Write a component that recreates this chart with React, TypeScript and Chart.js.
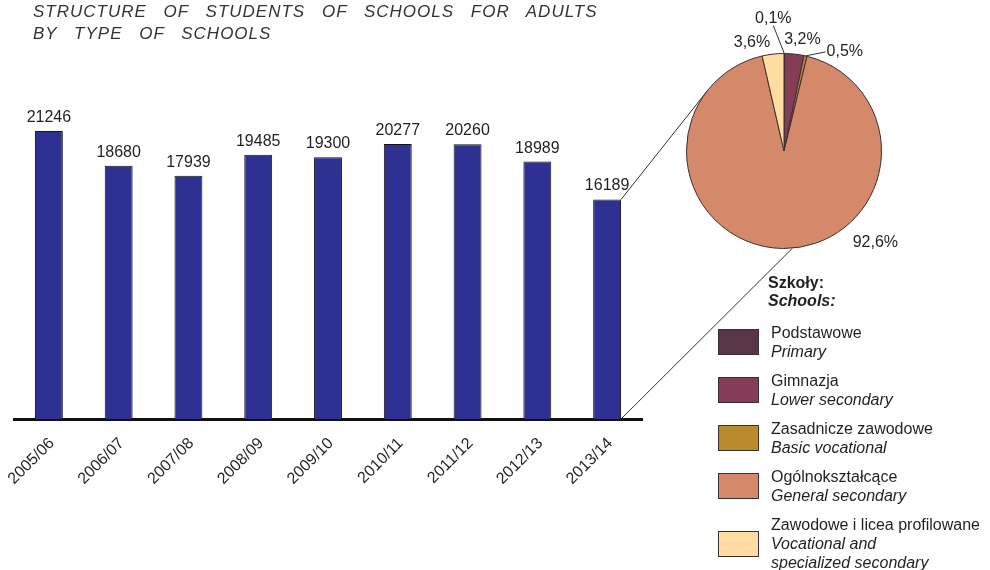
import React, { useEffect, useRef } from "react";
import { Chart, registerables } from "chart.js";

Chart.register(...registerables);

// ---- data ----
const years = ["2005/06", "2006/07", "2007/08", "2008/09", "2009/10", "2010/11", "2011/12", "2012/13", "2013/14"];
const students = [21246, 18680, 17939, 19485, 19300, 20277, 20260, 18989, 16189];
const yAxisMax = 25000;
const schoolTypesPl = ["Podstawowe", "Gimnazja", "Zasadnicze zawodowe", "Ogólnokształcące", "Zawodowe i licea profilowane"];
const schoolTypesEn = ["Primary", "Lower secondary", "Basic vocational", "General secondary", "Vocational and\nspecialized secondary"];
const sharePct = [0.1, 3.2, 0.5, 92.6, 3.6];
const titleLines = ["STRUCTURE OF STUDENTS OF SCHOOLS FOR ADULTS", "BY TYPE OF SCHOOLS"];
const legendHeader = ["Szkoły:", "Schools:"];

// ---- styles ----
const FONT = '"Liberation Sans", Arial, Helvetica, sans-serif';
const TEXT = "#231f20";
const BAR_COLOR = "#2e3192";
const SLICE_COLORS = ["#5a3548", "#843c57", "#b98a2e", "#d5896b", "#ffdda2"];
const OUTLINE = "#3a3030";
const PIE_BOX = { left: 680, top: 0, width: 310, height: 270 };
// label placement relative to each slice's outer mid point
const PIE_LABEL_NUDGE: { dx: number; dy: number; align: CanvasTextAlign; leader?: "up" | "side" }[] = [
  { dx: -11, dy: -31, align: "center", leader: "up" },
  { dx: 8, dy: -10, align: "center" },
  { dx: 21, dy: 0, align: "left", leader: "side" },
  { dx: 92, dy: -1, align: "center" },
  { dx: -21, dy: -7, align: "center" },
];
const LOWER_CONNECTOR_ANGLE = (85 * Math.PI) / 180;

const fmtPct = (v: number) => v.toFixed(1).replace(".", ",") + "%";

export default function App() {
  const barRef = useRef<HTMLCanvasElement | null>(null);
  const pieRef = useRef<HTMLCanvasElement | null>(null);

  useEffect(() => {
    if (!barRef.current || !pieRef.current) return;

    const pieLabelPlugin = {
      id: "pieLabels",
      afterDatasetsDraw(chart: any) {
        const ctx = chart.ctx;
        const meta = chart.getDatasetMeta(0);
        ctx.save();
        ctx.font = `16px ${FONT}`;
        ctx.fillStyle = TEXT;
        ctx.strokeStyle = "#333";
        ctx.lineWidth = 1;
        ctx.textBaseline = "alphabetic";
        meta.data.forEach((arc: any, i: number) => {
          const p = arc.getProps(["x", "y", "startAngle", "endAngle", "outerRadius"], true);
          const mid = (p.startAngle + p.endAngle) / 2;
          const ex = p.x + Math.cos(mid) * p.outerRadius;
          const ey = p.y + Math.sin(mid) * p.outerRadius;
          const n = PIE_LABEL_NUDGE[i];
          const lx = ex + n.dx;
          const ly = ey + n.dy;
          ctx.textAlign = n.align;
          ctx.fillText(fmtPct(sharePct[i]), lx, ly);
          if (n.leader === "up") {
            ctx.beginPath();
            ctx.moveTo(lx, ly + 3);
            ctx.lineTo(ex, ey);
            ctx.stroke();
          } else if (n.leader === "side") {
            ctx.beginPath();
            ctx.moveTo(ex, ey);
            ctx.lineTo(lx - 1, ly - 4);
            ctx.stroke();
          }
        });
        ctx.restore();
      },
    };

    const pieChart = new Chart(pieRef.current, {
      type: "pie",
      data: {
        labels: schoolTypesPl,
        datasets: [
          {
            data: sharePct,
            backgroundColor: SLICE_COLORS,
            borderColor: OUTLINE,
            borderWidth: 1,
          },
        ],
      },
      options: {
        animation: false,
        responsive: false,
        maintainAspectRatio: false,
        layout: { padding: { left: 6, right: 108, top: 53, bottom: 21 } },
        plugins: { legend: { display: false }, tooltip: { enabled: false }, title: { display: false } },
      },
      plugins: [pieLabelPlugin],
    } as any);

    const valueLabelPlugin = {
      id: "valueLabels",
      afterDatasetsDraw(chart: any) {
        const ctx = chart.ctx;
        const meta = chart.getDatasetMeta(0);
        ctx.save();
        ctx.font = `16px ${FONT}`;
        ctx.fillStyle = TEXT;
        ctx.textAlign = "center";
        ctx.textBaseline = "alphabetic";
        meta.data.forEach((bar: any, i: number) => {
          ctx.fillText(String(students[i]), bar.x, bar.y - 9);
        });
        ctx.restore();
      },
    };

    const connectorPlugin = {
      id: "connector",
      afterDraw(chart: any) {
        const arc: any = pieChart.getDatasetMeta(0).data[0];
        if (!arc) return;
        const cx = arc.x + PIE_BOX.left;
        const cy = arc.y + PIE_BOX.top;
        const r = arc.outerRadius;
        const meta = chart.getDatasetMeta(0);
        const bar: any = meta.data[meta.data.length - 1];
        const b = bar.getProps(["x", "y", "width", "base"], true);
        const px = b.x + b.width / 2;
        const ctx = chart.ctx;
        // upper tangent from bar's top-right corner
        const dx = cx - px;
        const dy = cy - b.y;
        const d = Math.hypot(dx, dy);
        const a = Math.atan2(dy, dx);
        const beta = Math.asin(Math.min(1, r / d));
        const L = Math.sqrt(Math.max(0, d * d - r * r));
        const t = a - beta;
        const tx = px + L * Math.cos(t);
        const ty = b.y + L * Math.sin(t);
        const bx = cx + r * Math.cos(LOWER_CONNECTOR_ANGLE);
        const by = cy + r * Math.sin(LOWER_CONNECTOR_ANGLE);
        ctx.save();
        ctx.strokeStyle = "#333";
        ctx.lineWidth = 1;
        ctx.beginPath();
        ctx.moveTo(px, b.y);
        ctx.lineTo(tx, ty);
        ctx.moveTo(px, b.base);
        ctx.lineTo(bx, by);
        ctx.stroke();
        ctx.restore();
      },
    };

    const barChart = new Chart(barRef.current, {
      type: "bar",
      data: {
        labels: years,
        datasets: [
          {
            data: students,
            backgroundColor: BAR_COLOR,
            borderColor: "#151515",
            borderWidth: 1,
            barPercentage: 0.4,
            categoryPercentage: 1,
          },
        ],
      },
      options: {
        animation: false,
        responsive: false,
        maintainAspectRatio: false,
        layout: { padding: { left: 14, right: 348, top: 80, bottom: 0 } },
        plugins: { legend: { display: false }, tooltip: { enabled: false }, title: { display: false } },
        scales: {
          x: {
            grid: { display: false, drawTicks: false },
            border: { display: true, color: "#111", width: 3 },
            ticks: {
              color: TEXT,
              font: { family: FONT, size: 16 },
              minRotation: 45,
              maxRotation: 45,
              autoSkip: false,
              padding: 15,
              labelOffset: 3,
            },
            afterFit: (s: any) => {
              s.height = 151;
              s.paddingLeft = 0;
              s.paddingRight = 0;
            },
          },
          y: { display: false, min: 0, max: yAxisMax },
        },
      },
      plugins: [valueLabelPlugin, connectorPlugin],
    } as any);

    return () => {
      barChart.destroy();
      pieChart.destroy();
    };
  }, []);

  return (
    <div
      style={{
        position: "absolute",
        left: 0,
        top: 0,
        width: 990,
        height: 570,
        background: "#fff",
        fontFamily: FONT,
        color: TEXT,
        overflow: "hidden",
      }}
    >
      <canvas
        ref={barRef}
        width={990}
        height={570}
        style={{ position: "absolute", left: 0, top: 0, width: 990, height: 570 }}
      />
      <canvas
        ref={pieRef}
        width={PIE_BOX.width}
        height={PIE_BOX.height}
        style={{
          position: "absolute",
          left: PIE_BOX.left,
          top: PIE_BOX.top,
          width: PIE_BOX.width,
          height: PIE_BOX.height,
        }}
      />
      <div
        style={{
          position: "absolute",
          left: 33,
          top: 1,
          fontSize: 17,
          fontStyle: "italic",
          lineHeight: "22px",
          letterSpacing: "1px",
          wordSpacing: "11px",
          color: "#333",
          whiteSpace: "nowrap",
        }}
      >
        {titleLines.map((l) => (
          <div key={l}>{l}</div>
        ))}
      </div>
      <div style={{ position: "absolute", left: 718, top: 274, fontSize: 16 }}>
        <div style={{ marginLeft: 50, lineHeight: "18px", fontWeight: "bold" }}>
          <div>{legendHeader[0]}</div>
          <div style={{ fontStyle: "italic" }}>{legendHeader[1]}</div>
        </div>
        <div style={{ marginTop: 13, display: "flex", flexDirection: "column", gap: 10 }}>
          {schoolTypesPl.map((pl, i) => (
            <div key={pl} style={{ display: "flex", alignItems: "center" }}>
              <div
                style={{
                  width: 39,
                  height: 24,
                  background: SLICE_COLORS[i],
                  border: `1px solid ${OUTLINE}`,
                  flex: "none",
                }}
              />
              <div style={{ marginLeft: 12, lineHeight: "19px", whiteSpace: "pre" }}>
                <div>{pl}</div>
                <div style={{ fontStyle: "italic" }}>{schoolTypesEn[i]}</div>
              </div>
            </div>
          ))}
        </div>
      </div>
    </div>
  );
}
